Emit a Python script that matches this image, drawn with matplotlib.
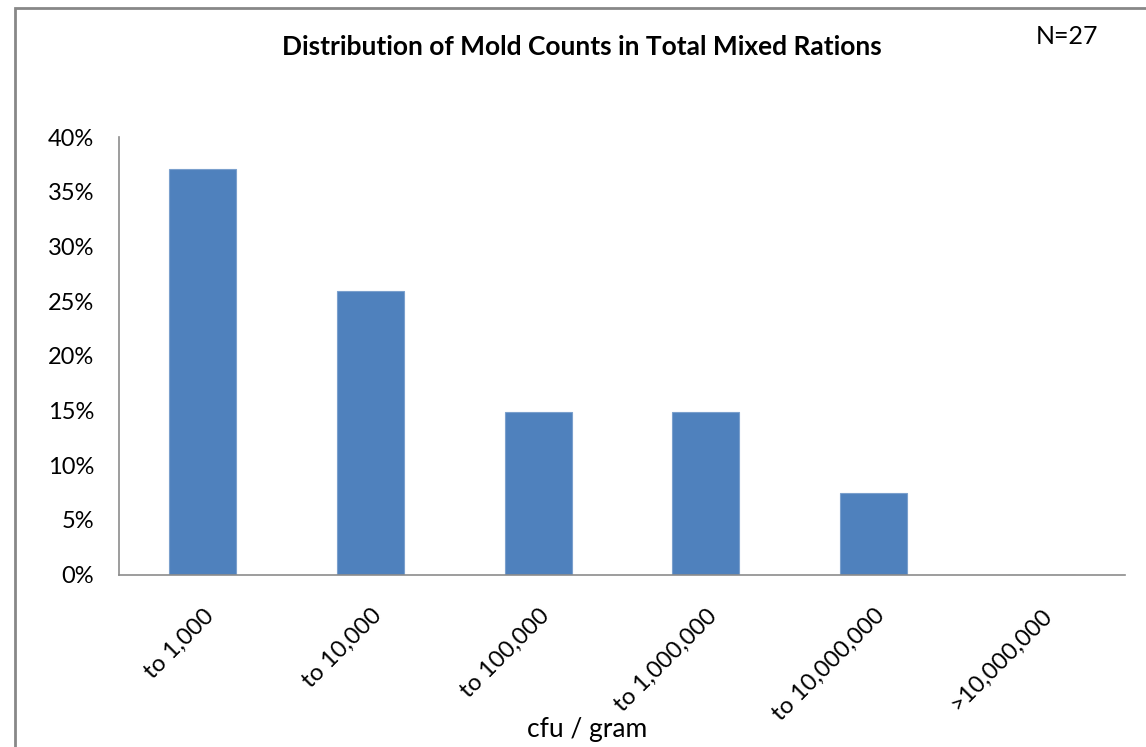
import matplotlib.pyplot as plt
from matplotlib.patches import Rectangle

# Mold count distribution (N=27)
categories = ["to 1,000", "to 10,000", "to 100,000", "to 1,000,000",
              "to 10,000,000", ">10,000,000"]
counts = [10, 7, 4, 4, 2, 0]
n_total = 27
shares = [c / n_total * 100 for c in counts]
yticks = [0, 5, 10, 15, 20, 25, 30, 35, 40]

plt.rcParams['font.family'] = ['Lato', 'DejaVu Sans']

W, H = 1146, 747
fig = plt.figure(figsize=(W / 100, H / 100), dpi=100)
ax = fig.add_axes([119 / W, 1 - 574.5 / H, (1125 - 119) / W, (574.5 - 137) / H])

x = range(len(categories))
ax.bar(x, shares, width=0.4, color='#4F81BD', edgecolor='#7BA0CD', linewidth=0.8)

ax.set_xlim(-0.5, len(categories) - 0.5)
ax.set_ylim(0, 40)
ax.set_yticks(yticks)
ax.set_yticklabels([f"{v}%" for v in yticks], fontsize=17)
ax.set_xticks(list(x))
ax.set_xticklabels(categories, fontsize=17, rotation=45, ha='right',
                   rotation_mode='anchor')
ax.tick_params(axis='both', length=0)
ax.tick_params(axis='y', pad=18)
ax.tick_params(axis='x', pad=22)

for side in ['top', 'right']:
    ax.spines[side].set_visible(False)
for side in ['left', 'bottom']:
    ax.spines[side].set_color('#8C8C8C')
    ax.spines[side].set_linewidth(1.2)

fig.text(582 / W, 1 - 47 / H, "Distribution of Mold Counts in Total Mixed Rations",
         ha='center', va='center', fontsize=19, fontweight='bold')
fig.text(1067 / W, 1 - 37 / H, "N=27", ha='center', va='center', fontsize=18)
fig.text(587 / W, 1 - 730 / H, "cfu / gram", ha='center', va='center', fontsize=19)

# outer chart frame (runs off the right and bottom edges)
fig.patches.append(Rectangle((15 / W, -0.1), 1.2, 1 - 8 / H + 0.1,
                             transform=fig.transFigure, fill=False,
                             edgecolor='#888888', linewidth=2))

fig.savefig('out.png', dpi=100)
